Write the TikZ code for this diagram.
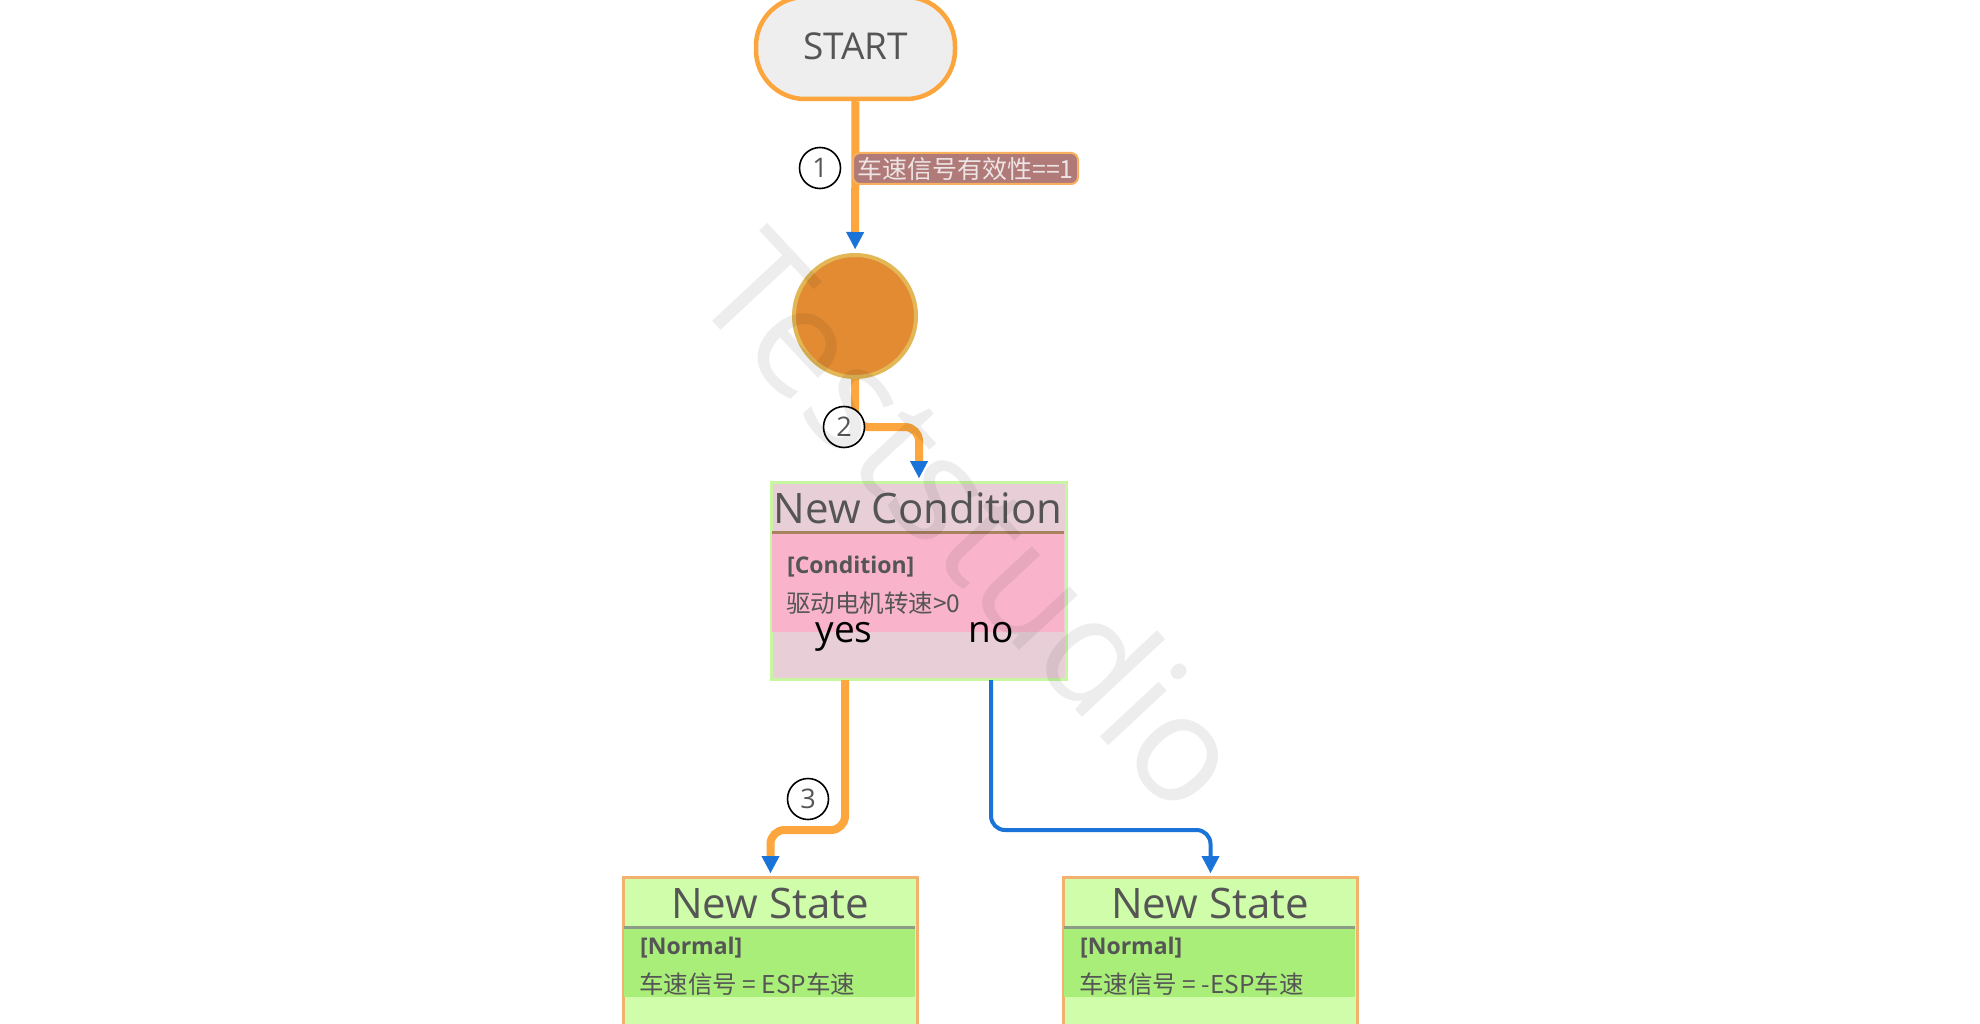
\documentclass[tikz,border=0pt]{standalone}
\usepackage{fontspec}
\setmainfont{Open Sans}
\newfontfamily\cjk{Noto Sans CJK SC}
\usetikzlibrary{arrows.meta}
\definecolor{lineor}{HTML}{FDA63D}
\definecolor{tipblue}{HTML}{1A73D9}
\definecolor{startfill}{HTML}{EEEEEE}
\definecolor{startdraw}{HTML}{FBA53C}
\definecolor{juncfill}{HTML}{E38B33}
\definecolor{juncdraw}{HTML}{E3B755}
\definecolor{condtitle}{HTML}{E8CFD7}
\definecolor{condbody}{HTML}{F9B4CB}
\definecolor{condsep}{HTML}{A9825F}
\definecolor{condedge}{HTML}{C8F5A2}
\definecolor{sttitle}{HTML}{CFFDAA}
\definecolor{stbody}{HTML}{A8EE79}
\definecolor{stsep}{HTML}{8C9C86}
\definecolor{stedge}{HTML}{F2B26E}
\definecolor{lblfill}{HTML}{AF7A78}
\definecolor{lbldraw}{HTML}{F8B05F}
\definecolor{lbltext}{HTML}{EDE4E4}
\definecolor{txtgray}{HTML}{555555}
\newcommand\myfs[1]{\fontsize{#1}{#1}\selectfont}
\begin{document}
\begin{tikzpicture}[x=1pt,y=-1pt,
  flow/.style={line width=8pt, draw=lineor, rounded corners=14pt,
    -{Triangle[color=tipblue,width=18pt,length=17pt,line width=0.4pt]}, shorten >=4pt},
  noflow/.style={line width=4pt, draw=tipblue, rounded corners=14pt,
    -{Triangle[color=tipblue,width=18pt,length=17pt,line width=0.4pt]}, shorten >=4pt},
  numlab/.style={circle, draw=black, line width=1.6pt, fill=white, minimum size=41pt,
    inner sep=0pt, text=txtgray, font=\myfs{27}},
  boxtitle/.style={inner sep=0pt, text=txtgray, font=\myfs{42}},
  boxtag/.style={inner sep=0pt, anchor=west, text=txtgray, font=\myfs{23}\bfseries},
  boxline/.style={inner sep=0pt, anchor=west, text=txtgray, font=\cjk\myfs{24.5}},
  branch/.style={inner sep=0pt, anchor=base, text=black, font=\myfs{37}},
  statebox/.style={draw=stedge, line width=2pt, fill=sttitle, minimum width=293pt,
    minimum height=220pt, inner sep=0pt, anchor=north west}]
\useasboundingbox (0,0) rectangle (1980,1024);
\clip (0,0) rectangle (1980,1024);
\fill[white] (0,0) rectangle (1980,1024);

% START
\node[draw=startdraw, line width=4.5pt, fill=startfill, rounded corners=49pt,
  minimum width=199pt, minimum height=102pt, inner sep=0pt, text=txtgray, font=\myfs{37}]
  (start) at (855.5,48) {\raisebox{3pt}{START}};

% junction
\node[circle, draw=juncdraw, line width=4pt, fill=juncfill, minimum size=122pt,
  inner sep=0pt] (junc) at (855,316) {};

% condition box
\node[draw=condedge, line width=2pt, fill=condtitle, minimum width=294pt,
  minimum height=196pt, inner sep=0pt, anchor=north west] (cond) at (771,482) {};
\fill[condbody] (772,533) rectangle (1064,632);
\draw[condsep, line width=3pt] (772,532) -- (1064,532);
\draw[condedge, line width=2pt] (cond.north west) rectangle (cond.south east);
\node[boxtitle] (condt) at (918,508) {New Condition};
\node[boxtag] (condtag) at (787,567) {[Condition]};
\node[boxline] (condexpr) at (786,603) {驱动电机转速>0};
\node[branch] (yes) at (844,642) {yes};
\node[branch] (no) at (991,642) {no};
\coordinate (yesout) at ([xshift=74pt]cond.south west);
\coordinate (noout) at ([xshift=220pt]cond.south west);

% state boxes
\node[statebox] (state1) at (623,877) {};
\node[statebox] (state2) at (1063,877) {};
\foreach \x in {623,1063}{
  \fill[stbody] (\x+1,928) rectangle (\x+292,997);
  \draw[stsep, line width=3pt] (\x+1,927) -- (\x+292,927);
}
\draw[stedge, line width=2pt] (state1.north west) rectangle (state1.south east);
\draw[stedge, line width=2pt] (state2.north west) rectangle (state2.south east);
\node[boxtitle] (s1t) at (770,903) {New State};
\node[boxtag] (s1tag) at (640,948) {[Normal]};
\node[boxline] (s1expr) at (639,984) {车速信号 = ESP车速};
\node[boxtitle] (s2t) at (1210,903) {New State};
\node[boxtag] (s2tag) at (1080,948) {[Normal]};
\node[boxline] (s2expr) at (1079,984) {车速信号 = -ESP车速};

% connectors
\draw[flow] (start) -- (junc);
\draw[flow] (junc.south) -- ++(0,48) -| (cond.north);
\draw[flow] (yesout) -- ++(0,150) -| (state1.north);
\draw[noflow] (noout) -- ++(0,150) -| (state2.north);

% labels
\node[numlab] (n1) at (820,168) {1};
\node[draw=lbldraw, line width=2pt, fill=lblfill, rounded corners=7pt,
  minimum width=225pt, minimum height=31pt, inner sep=0pt, text=lbltext,
  font=\cjk\myfs{25}] (guard) at (965.5,168.5) {车速信号有效性==1};
\node[numlab] (n2) at (844,427) {2};
\node[numlab] (n3) at (808,799) {3};

% watermark
\node[rotate=-47, text=black, text opacity=0.07, font=\myfs{150}, inner sep=0pt]
  (wm) at (975,520) {Teststudio};
\end{tikzpicture}
\end{document}
